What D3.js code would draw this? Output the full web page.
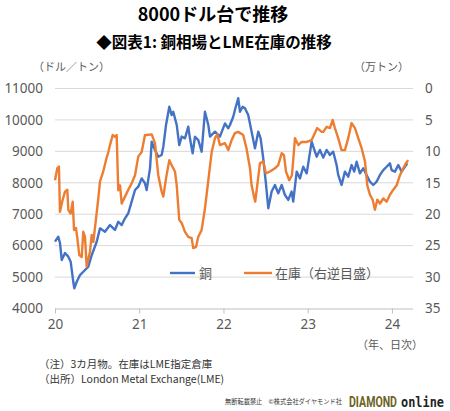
<!DOCTYPE html>
<html><head><meta charset="utf-8">
<script src="https://cdn.jsdelivr.net/npm/d3@7"></script>
<style>
html,body{margin:0;padding:0;background:#fff;}
svg{display:block;font-family:"Noto Sans CJK JP","Noto Sans",sans-serif;}
</style></head>
<body>
<svg id="c" width="450" height="411"></svg>
<script>
// ---- data (decimal year, value) ----
const copperT = [2020.000,2020.039,2020.059,2020.080,2020.119,2020.158,2020.186,2020.217,2020.229,2020.258,2020.297,2020.336,2020.395,2020.436,2020.495,2020.534,2020.593,2020.653,2020.712,2020.751,2020.792,2020.831,2020.870,2020.910,2020.950,2020.989,2021.029,2021.068,2021.088,2021.128,2021.148,2021.187,2021.226,2021.266,2021.286,2021.318,2021.357,2021.385,2021.404,2021.445,2021.475,2021.504,2021.543,2021.582,2021.602,2021.634,2021.662,2021.701,2021.741,2021.780,2021.820,2021.840,2021.899,2021.958,2022.018,2022.057,2022.077,2022.116,2022.136,2022.175,2022.196,2022.228,2022.255,2022.294,2022.334,2022.374,2022.413,2022.441,2022.472,2022.504,2022.532,2022.572,2022.611,2022.650,2022.691,2022.730,2022.769,2022.809,2022.828,2022.869,2022.908,2022.947,2022.988,2023.047,2023.066,2023.106,2023.145,2023.185,2023.224,2023.264,2023.303,2023.343,2023.362,2023.402,2023.442,2023.481,2023.521,2023.552,2023.581,2023.620,2023.659,2023.699,2023.739,2023.778,2023.818,2023.858,2023.897,2023.937,2023.976,2023.996,2024.036,2024.075,2024.115,2024.154,2024.182];
const copperV = [6130,6285,6085,5545,5765,5650,5490,4850,4640,4850,5065,5170,5330,5700,6125,6550,6445,6655,6500,6760,6655,6870,7030,7400,7770,7875,8140,7985,7770,8460,9310,9045,8830,8885,9150,9840,10420,10155,10260,9840,9200,9470,9415,9785,9415,8940,9465,9360,8990,10260,9840,9470,9625,9470,9890,9735,9840,10100,10315,10690,10260,10420,10370,10155,9625,9095,9625,9415,8780,7985,7190,7720,7930,7665,7930,7610,7455,7720,7400,8355,8140,8510,8300,9310,9150,8830,9045,8800,9045,8885,8990,8565,8250,7930,8355,8195,8565,8355,8670,8300,8460,8250,8035,7930,8035,8250,8405,8510,8620,8405,8355,8565,8355,8510,8620];
const stockT = [2020.000,2020.027,2020.047,2020.059,2020.091,2020.119,2020.146,2020.158,2020.186,2020.210,2020.226,2020.249,2020.265,2020.288,2020.317,2020.336,2020.356,2020.376,2020.415,2020.436,2020.455,2020.487,2020.514,2020.534,2020.573,2020.605,2020.633,2020.653,2020.685,2020.712,2020.732,2020.751,2020.772,2020.792,2020.831,2020.870,2020.910,2020.950,2020.989,2021.029,2021.068,2021.088,2021.148,2021.187,2021.226,2021.266,2021.286,2021.318,2021.357,2021.385,2021.424,2021.445,2021.475,2021.504,2021.543,2021.582,2021.622,2021.641,2021.674,2021.701,2021.741,2021.780,2021.820,2021.860,2021.899,2021.926,2021.958,2022.018,2022.057,2022.097,2022.136,2022.175,2022.234,2022.273,2022.315,2022.334,2022.362,2022.377,2022.401,2022.433,2022.472,2022.504,2022.552,2022.611,2022.650,2022.691,2022.718,2022.742,2022.781,2022.813,2022.849,2022.888,2022.928,2022.988,2023.047,2023.113,2023.166,2023.185,2023.224,2023.264,2023.296,2023.323,2023.362,2023.402,2023.442,2023.481,2023.521,2023.561,2023.600,2023.640,2023.680,2023.707,2023.739,2023.771,2023.798,2023.826,2023.858,2023.897,2023.937,2023.976,2024.016,2024.056,2024.095,2024.134,2024.166,2024.193];
const stockV = [14.6,12.7,12.4,19.6,17.7,16.4,16.1,19.3,19.9,18.0,22.5,22.2,23.8,26.5,26.8,22.8,23.6,28.3,26.0,23.3,24.4,20.7,17.5,14.8,13.2,11.4,10.1,9.0,7.4,7.7,7.4,16.2,15.4,18.3,17.2,16.1,15.1,13.8,10.8,10.1,7.4,7.4,7.3,8.7,13.8,16.4,17.2,14.3,11.4,12.2,13.2,15.4,20.9,21.4,22.8,23.6,23.8,25.4,25.2,23.6,22.5,19.1,14.6,10.1,7.9,7.3,9.0,8.7,9.8,8.2,7.1,6.9,7.4,9.5,12.7,15.4,17.2,18.0,15.4,11.9,11.6,13.5,13.2,12.7,12.2,10.3,10.6,13.2,14.6,13.8,7.9,9.0,8.5,8.5,8.2,6.3,6.9,6.9,6.1,6.3,5.0,6.3,7.9,9.8,9.8,7.9,5.5,6.3,7.9,9.5,11.6,15.4,16.9,17.7,19.3,17.7,18.3,17.5,18.0,16.9,16.1,15.4,13.8,12.7,11.9,11.4];
const leftTicks = [4000,5000,6000,7000,8000,9000,10000,11000];
const rightTicks = [0,5,10,15,20,25,30,35];
const yearTicks = [2020,2021,2022,2023,2024];
const yearLabels = ["20","21","22","23","24"];
const seriesNames = ["銅","在庫（右逆目盛）"];
const colors = ["#4472C4","#ED7D31"];

const svg = d3.select("#c");
const L = 55, R = 413, T = 88.5, B = 308.5;
const x = d3.scaleLinear().domain([2020, 2024.25]).range([L, R]);
const yL = d3.scaleLinear().domain([4000, 11000]).range([B, T]);
const yR = d3.scaleLinear().domain([0, 35]).range([T, B]);

// titles
svg.append("text").attr("x",213).attr("y",21).attr("text-anchor","middle")
  .attr("font-size",18).attr("font-weight","bold").attr("fill","#000").text("8000ドル台で推移");
svg.append("text").attr("x",214).attr("y",47.5).attr("text-anchor","middle")
  .attr("font-size",15.5).attr("font-weight","bold").attr("fill","#000").text("◆図表1: 銅相場とLME在庫の推移");
svg.append("text").attr("x",33).attr("y",71).attr("font-size",11).attr("fill","#595959").text("（ドル／トン）");
svg.append("text").attr("x",354).attr("y",71).attr("font-size",11).attr("fill","#595959").text("（万トン）");

// gridlines
svg.append("g").selectAll("line").data(leftTicks.slice(1)).join("line")
  .attr("x1",L).attr("x2",R).attr("y1",d=>yL(d)).attr("y2",d=>yL(d))
  .attr("stroke","#d9d9d9").attr("stroke-width",1);

// left axis
const gl = svg.append("g").attr("transform",`translate(${L},0)`)
  .call(d3.axisLeft(yL).tickValues(leftTicks).tickSize(0).tickPadding(12).tickFormat(d3.format("d")));
gl.select(".domain").remove();
gl.selectAll("text").attr("font-size",13.5).attr("fill","#595959").attr("font-family","Noto Sans, sans-serif");

// right axis
const gr = svg.append("g").attr("transform",`translate(${R},0)`)
  .call(d3.axisRight(yR).tickValues(rightTicks).tickSize(0).tickPadding(12).tickFormat(d3.format("d")));
gr.select(".domain").remove();
gr.selectAll("text").attr("font-size",13.5).attr("fill","#595959").attr("font-family","Noto Sans, sans-serif");

// bottom axis
const gb = svg.append("g").attr("transform",`translate(0,${B})`)
  .call(d3.axisBottom(x).tickValues(yearTicks).tickSize(5).tickPadding(6).tickFormat((d,i)=>yearLabels[i]));
gb.select(".domain").attr("stroke","#bfbfbf").attr("d",`M${L},0.5H${R}`);
gb.selectAll(".tick line").attr("stroke","#bfbfbf");
gb.selectAll("text").attr("font-size",13.5).attr("fill","#595959").attr("font-family","Noto Sans, sans-serif");

svg.append("text").attr("x",423).attr("y",349).attr("text-anchor","end").attr("font-size",11).attr("fill","#595959").text("（年、日次）");

// lines
const copper = copperT.map((t,i)=>({t, v: copperV[i]}));
const stock = stockT.map((t,i)=>({t, v: stockV[i]}));
svg.append("path").datum(copper).attr("fill","none").attr("stroke",colors[0]).attr("stroke-width",2.4)
  .attr("stroke-linejoin","round").attr("d", d3.line().x(d=>x(d.t)).y(d=>yL(d.v)));
svg.append("path").datum(stock).attr("fill","none").attr("stroke",colors[1]).attr("stroke-width",2.4)
  .attr("stroke-linejoin","round").attr("d", d3.line().x(d=>x(d.t)).y(d=>yR(d.v)));

// legend
const leg = [{x1:170,x2:195,tx:199},{x1:244,x2:272,tx:275}];
leg.forEach((l,i)=>{
  svg.append("line").attr("x1",l.x1).attr("x2",l.x2).attr("y1",273).attr("y2",273)
    .attr("stroke",colors[i]).attr("stroke-width",2.4);
  svg.append("text").attr("x",l.tx).attr("y",278).attr("font-size",13).attr("fill","#595959").text(seriesNames[i]);
});

// notes
svg.append("text").attr("x",39).attr("y",368).attr("font-size",10.5).attr("fill","#333").text("（注）3カ月物。在庫はLME指定倉庫");
svg.append("text").attr("x",39).attr("y",383).attr("font-size",10.5).attr("fill","#333").text("（出所）London Metal Exchange(LME)");

// footer
svg.append("text").attr("x",225).attr("y",404).attr("font-size",6.5).attr("fill","#333")
  .attr("textLength",117).attr("lengthAdjust","spacingAndGlyphs").text("無断転載禁止　©株式会社ダイヤモンド社");
function fitText(str, x0, y0, w, size, family, fill){
  const g = svg.append("g");
  const t = g.append("text").attr("font-size",size).attr("font-weight","bold")
    .attr("font-family",family).attr("fill",fill).text(str);
  const nat = t.node().getComputedTextLength();
  g.attr("transform",`translate(${x0},${y0}) scale(${w/nat},1)`);
}
fitText("DIAMOND", 349, 407, 48, 15, "Liberation Sans Narrow, Roboto, sans-serif", "#6b6323");
fitText("online", 401, 407, 43, 14, "DejaVu Sans Mono, monospace", "#222");
</script>
</body></html>
